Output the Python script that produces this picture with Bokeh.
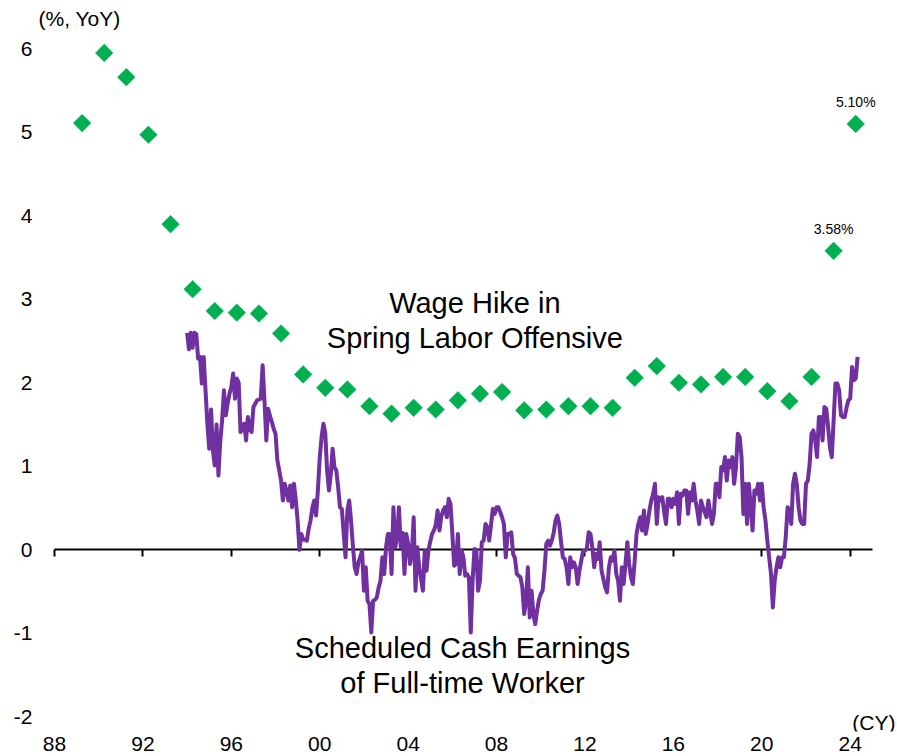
import math
from bokeh.plotting import figure
from bokeh.models import Range1d, FixedTicker, LinearAxis
from bokeh.core.properties import value
from bokeh.embed import file_html
from bokeh.resources import INLINE

# ---------------- data ----------------
wage_years = list(range(1989, 2025))
wage_hike = [5.11, 5.95, 5.66, 4.97, 3.90, 3.12, 2.86, 2.84, 2.83, 2.59,
             2.10, 1.94, 1.92, 1.72, 1.63, 1.70, 1.68, 1.79, 1.87, 1.89,
             1.67, 1.68, 1.72, 1.72, 1.70, 2.06, 2.20, 2.00, 1.98, 2.07,
             2.07, 1.90, 1.78, 2.07, 3.58, 5.10]
labelled_years = [2023, 2024]

# Scheduled cash earnings of full-time workers, % YoY, monthly (Jan..Dec)
earn_1994 = [2.60, 2.40, 2.60, 2.42, 2.60, 2.58, 2.29, 2.31, 1.99, 2.31, 1.91, 1.51]
earn_1995 = [1.21, 1.68, 1.19, 1.01, 1.50, 0.89, 1.30, 1.55, 1.91, 1.61, 1.75, 1.87]
earn_1996 = [1.95, 2.11, 1.81, 2.05, 2.00, 1.41, 1.45, 1.51, 1.31, 1.59, 1.45, 1.41]
earn_1997 = [1.71, 1.75, 1.79, 1.80, 1.81, 2.21, 1.79, 1.31, 1.69, 1.60, 1.53, 1.45]
earn_1998 = [1.39, 1.07, 0.95, 0.83, 0.59, 0.79, 0.70, 0.59, 0.77, 0.51, 0.79, 0.60]
earn_1999 = [0.35, 0.00, 0.19, 0.12, 0.12, 0.11, 0.25, 0.35, 0.50, 0.59, 0.41, 0.71]
earn_2000 = [1.10, 1.35, 1.51, 1.40, 0.95, 0.71, 0.90, 1.21, 0.99, 0.95, 0.75, 0.51]
earn_2001 = [0.49, 0.20, -0.09, 0.47, 0.59, 0.35, 0.05, -0.21, -0.29, -0.15, -0.09, -0.01]
earn_2002 = [-0.49, -0.21, -0.61, -0.65, -0.99, -0.61, -0.60, -0.57, -0.45, -0.37, -0.09, -0.29]
earn_2003 = [0.03, 0.19, 0.19, -0.29, 0.51, 0.03, 0.15, 0.51, 0.03, 0.20, -0.29, 0.19]
earn_2004 = [0.07, -0.17, -0.05, 0.39, -0.49, 0.03, -0.21, -0.35, -0.49, -0.01, -0.25, -0.01]
earn_2005 = [0.10, 0.19, 0.23, 0.30, 0.47, 0.23, 0.40, 0.47, 0.51, 0.39, 0.61, 0.55]
earn_2006 = [0.19, -0.19, -0.17, 0.19, -0.29, -0.01, -0.09, -0.31, -0.29, -0.33, -0.99, -0.37]
earn_2007 = [0.01, 0.00, -0.49, -0.37, 0.09, 0.11, 0.31, 0.27, 0.11, 0.30, 0.49, 0.43]
earn_2008 = [0.51, 0.51, 0.45, 0.39, 0.31, -0.09, 0.19, 0.19, 0.21, -0.05, -0.10, -0.29]
earn_2009 = [-0.31, -0.33, -0.45, -0.77, -0.61, -0.21, -0.81, -0.49, -0.77, -0.89, -0.73, -0.60]
earn_2010 = [-0.53, -0.49, -0.25, 0.07, 0.11, 0.05, 0.11, 0.20, 0.35, 0.41, 0.31, 0.10]
earn_2011 = [-0.09, -0.11, -0.21, -0.41, -0.09, -0.21, -0.15, -0.21, -0.41, -0.25, -0.13, -0.01]
earn_2012 = [-0.01, 0.01, 0.21, 0.19, 0.03, -0.21, -0.05, -0.11, 0.09, -0.25, -0.35, -0.45]
earn_2013 = [-0.51, -0.21, -0.09, -0.13, -0.01, -0.29, -0.37, -0.61, -0.21, -0.41, -0.17, 0.09]
earn_2014 = [-0.17, -0.33, -0.41, -0.13, 0.19, 0.31, 0.39, 0.23, 0.47, 0.19, 0.31, 0.47]
earn_2015 = [0.59, 0.67, 0.79, 0.31, 0.63, 0.59, 0.63, 0.45, 0.31, 0.61, 0.61, 0.51]
earn_2016 = [0.61, 0.55, 0.69, 0.31, 0.67, 0.65, 0.71, 0.71, 0.43, 0.69, 0.59, 0.79]
earn_2017 = [0.59, 0.47, 0.31, 0.59, 0.51, 0.45, 0.39, 0.59, 0.45, 0.31, 0.43, 0.79]
earn_2018 = [0.79, 0.63, 0.99, 0.95, 1.11, 0.83, 1.07, 0.99, 1.11, 0.79, 0.99, 1.39]
earn_2019 = [1.35, 1.11, 0.43, 0.79, 0.31, 0.79, 0.51, 0.23, 0.71, 0.67, 0.79, 0.59]
earn_2020 = [0.79, 0.51, 0.35, 0.11, -0.09, -0.29, -0.69, -0.37, -0.21, -0.09, -0.21, -0.09]
earn_2021 = [-0.09, 0.15, 0.51, 0.47, 0.31, 0.79, 0.91, 0.79, 0.51, 0.35, 0.31, 0.31]
earn_2022 = [0.79, 0.83, 1.03, 1.39, 1.43, 1.31, 1.11, 1.59, 1.59, 1.31, 1.71, 1.69]
earn_2023 = [1.47, 1.23, 1.11, 1.55, 1.99, 1.99, 1.91, 1.61, 1.59, 1.59, 1.70, 1.79]
earn_2024 = [1.81, 2.19, 2.03, 2.05, 2.31]

earn_first_year = 1994

x_tick_years = [1988, 1992, 1996, 2000, 2004, 2008, 2012, 2016, 2020, 2024]
x_tick_labels = ["88", "92", "96", "00", "04", "08", "12", "16", "20", "24"]
y_ticks = [-2, -1, 0, 1, 2, 3, 4, 5, 6]
y_tick_labels = ["-2", "-1", "0", "1", "2", "3", "4", "5", "6"]

wage_label_lines = ["Wage Hike in", "Spring Labor Offensive"]
earn_label_lines = ["Scheduled Cash Earnings", "of Full-time Worker"]
y_unit_label = "(%, YoY)"
x_unit_label = "(CY)"

# ---------------- build ----------------
earn_by_year = [earn_1994, earn_1995, earn_1996, earn_1997, earn_1998, earn_1999,
                earn_2000, earn_2001, earn_2002, earn_2003, earn_2004, earn_2005,
                earn_2006, earn_2007, earn_2008, earn_2009, earn_2010, earn_2011,
                earn_2012, earn_2013, earn_2014, earn_2015, earn_2016, earn_2017,
                earn_2018, earn_2019, earn_2020, earn_2021, earn_2022, earn_2023,
                earn_2024]
earn_x, earn_y = [], []
for i, months in enumerate(earn_by_year):
    for m, v in enumerate(months):
        earn_x.append(earn_first_year + i + m / 12.0)
        earn_y.append(v)

wage_x = [y + 0.25 for y in wage_years]  # spring (April) of each year

FONT = "Liberation Sans"
PURPLE = "#7030A0"
GREEN = "#00B050"

X0, X1 = x_tick_years[0], 2025          # extent of the zero axis
Y0, Y1 = y_ticks[0], y_ticks[-1]

p = figure(width=897, height=756,
           x_range=Range1d(X0 - 0.814, X1 + 1.14),
           y_range=Range1d(Y0 - 0.176, Y1 + 0.578),
           output_backend="svg", toolbar_location=None,
           min_border_left=36, min_border_right=0,
           min_border_top=0, min_border_bottom=25)
p.outline_line_color = None
p.xgrid.grid_line_color = None
p.ygrid.grid_line_color = None
p.background_fill_color = "white"
p.border_fill_color = "white"

# y axis: labels only
yax = p.yaxis[0]
yax.ticker = FixedTicker(ticks=y_ticks)
yax.major_label_overrides = {t: s for t, s in zip(y_ticks, y_tick_labels)}
yax.axis_line_color = None
yax.major_tick_line_color = None
yax.major_tick_out = 0
yax.major_tick_in = 0
yax.minor_tick_line_color = None
yax.minor_tick_out = 0
yax.major_label_text_font = FONT
yax.major_label_text_font_size = "21px"
yax.major_label_text_color = "black"
yax.major_label_standoff = 4

# x axis at the bottom: labels only
xax = p.xaxis[0]
xax.ticker = FixedTicker(ticks=x_tick_years)
xax.major_label_overrides = {t: s for t, s in zip(x_tick_years, x_tick_labels)}
xax.axis_line_color = None
xax.major_tick_line_color = None
xax.major_tick_out = 0
xax.major_tick_in = 0
xax.minor_tick_line_color = None
xax.minor_tick_out = 0
xax.major_label_text_font = FONT
xax.major_label_text_font_size = "21px"
xax.major_label_text_color = "black"
xax.major_label_standoff = 5

# zero line with tick marks
zero_axis = LinearAxis(fixed_location=0, ticker=FixedTicker(ticks=x_tick_years),
                       bounds=(X0, X1))
zero_axis.axis_line_color = "black"
zero_axis.axis_line_width = 2
zero_axis.major_tick_line_color = "black"
zero_axis.major_tick_line_width = 2
zero_axis.major_tick_out = 7
zero_axis.major_tick_in = 0
zero_axis.minor_tick_line_color = None
zero_axis.major_label_text_color = None
zero_axis.major_label_text_font_size = "1px"
zero_axis.level = "underlay"
p.add_layout(zero_axis, "below")

# earnings line
p.line(earn_x, earn_y, line_color=PURPLE, line_width=4, line_join="round")

# wage hike diamonds
p.scatter(wage_x, wage_hike, marker="square", angle=math.pi / 4, size=12.5,
          fill_color=GREEN, line_color=GREEN, line_width=0.5)

# value labels for the latest two years
lab_x = [wage_x[wage_years.index(y)] for y in labelled_years]
lab_v = [wage_hike[wage_years.index(y)] for y in labelled_years]
p.text(lab_x, lab_v, text=[f"{v:.2f}%" for v in lab_v],
       text_font=value(FONT), text_font_size="14px", text_color="black",
       text_align="center", text_baseline="middle", y_offset=-22)

# series annotations
p.text([2007.02, 2007.02], [2.96, 2.54], text=wage_label_lines,
       text_font=value(FONT), text_font_size="29px", text_color="black",
       text_align="center", text_baseline="middle")
p.text([2006.46, 2006.46], [-1.18, -1.60], text=earn_label_lines,
       text_font=value(FONT), text_font_size="29px", text_color="black",
       text_align="center", text_baseline="middle")

# unit labels
p.text([X0 - 0.72], [Y1 + 0.363], text=[y_unit_label],
       text_font=value(FONT), text_font_size="21px", text_color="black",
       text_align="left", text_baseline="middle")
p.text([X1 + 1.05], [Y0 - 0.068], text=[x_unit_label],
       text_font=value(FONT), text_font_size="21px", text_color="black",
       text_align="right", text_baseline="middle")

open("out.html", "w").write(file_html(p, INLINE))
